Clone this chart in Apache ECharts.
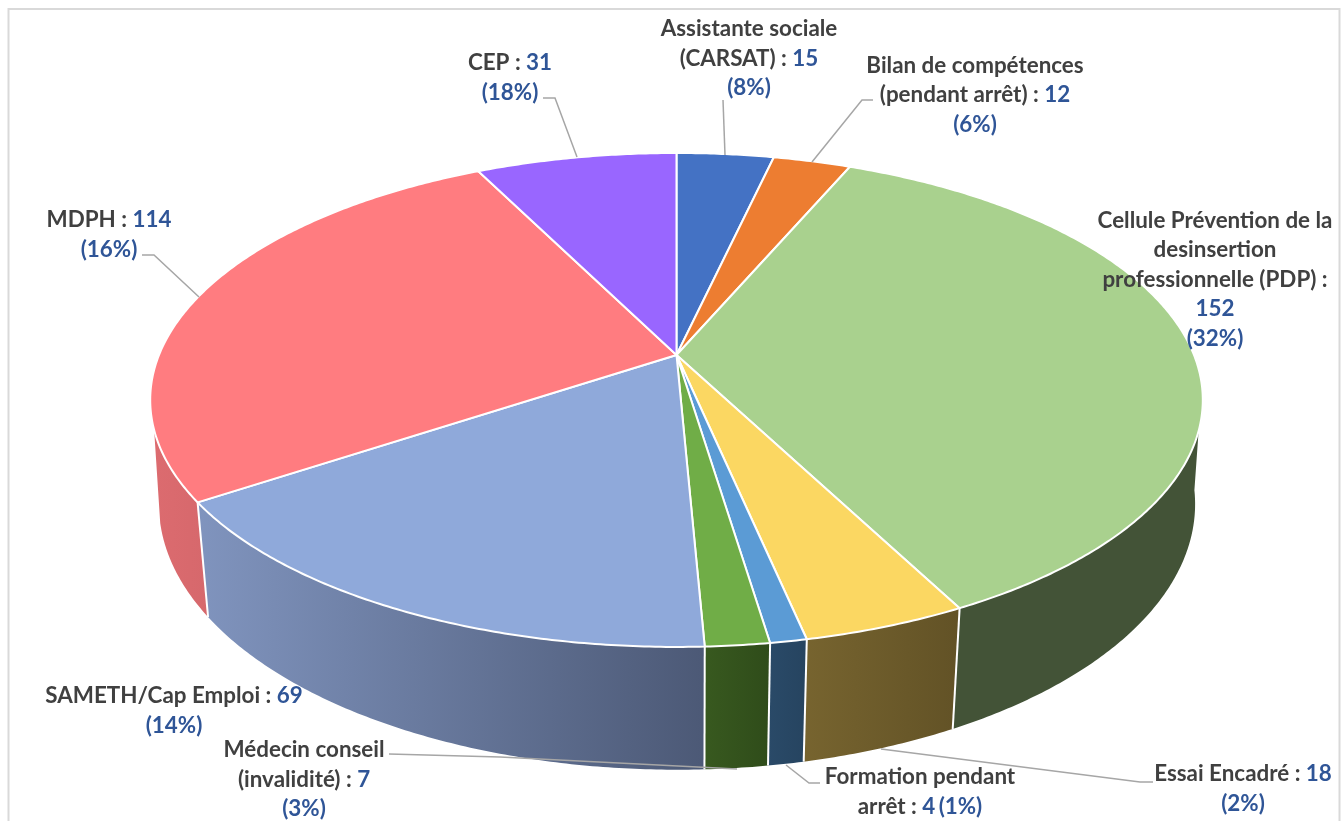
<!DOCTYPE html>
<html>
<head>
<meta charset="utf-8">
<style>html,body{margin:0;padding:0;background:#fff}#c{width:1344px;height:821px}</style>
<script src="https://cdn.jsdelivr.net/npm/echarts@6/dist/echarts.min.js"></script>
</head>
<body>
<div id="c"></div>
<script>
// ---- data ----
const categories = ['Assistante sociale\n(CARSAT)', 'Bilan de compétences\n(pendant arrêt)', 'Cellule Prévention de la\ndesinsertion\nprofessionnelle (PDP)', 'Essai Encadré', 'Formation pendant\narrêt', 'Médecin conseil\n(invalidité)', 'SAMETH/Cap Emploi', 'MDPH', 'CEP'];
const values = [15, 12, 152, 18, 4, 7, 69, 114, 31];
const percents = ['8%', '6%', '32%', '2%', '1%', '3%', '14%', '16%', '18%'];

// ---- styles ----
const topColors = ['#4472C4', '#ED7D31', '#A9D18E', '#FBD762', '#5B9BD5', '#70AD47', '#8FA9DA', '#FF7C80', '#9966FF'];
const sideFrom = ['#2F5597', '#B45F26', '#435337', '#77642F', '#2A4A68', '#38591F', '#8094BE', '#DC6B6F', '#6A46B0'];
const sideTo = ['#2F5597', '#B45F26', '#435337', '#625226', '#264460', '#2F4C1A', '#4C5976', '#D6686C', '#6A46B0'];
const valueBreak = [' ', ' ', '\n', ' ', ' ', ' ', ' ', ' ', ' '];
const percentBreak = ['\n', '\n', '\n', '\n', ' ', '\n', '\n', '\n', '\n'];

// ---- layout: perspective planes of the pie's top and bottom faces ----
const topPlane = {cx: 676.5, cy: 355, a: 517.5, b: 238.8, k: 0.182};
const bottomPlane = {cx: 677, cy: 459, a: 510.6, b: 258, k: 0.1696};
// where the visible wall meets its outline, as pie angles on each face
const wallTop = [107.5, 252.7];
const wallBottom = [96.8, 256.2];
const labelAnchors = [[749, 58.5], [975, 95], [1215, 279.5], [1243, 788.5], [920, 792], [304, 779.5], [174, 710.5], [109, 234.5], [510, 77.5]];
const leaderLines = [
  [[723, 100], [725, 155]],
  [[873, 100], [862, 100], [812, 162]],
  null,
  [[1153, 782], [1140, 782], [881, 749]],
  [[820, 783], [809, 783], [786, 765]],
  [[389, 754], [500, 757], [737, 769]],
  null,
  [[142, 255], [154, 255], [199, 297]],
  [[543, 98], [555, 98], [577, 157]]
];

const total = values.reduce((s, v) => s + v, 0);
function startAngle(i) {
  let s = 0;
  for (let j = 0; j < i; j++) s += values[j];
  return s / total * 360;
}
function project(deg, p) {
  const r = deg * Math.PI / 180, u = Math.sin(r), v = -Math.cos(r), w = 1 - p.k * v;
  return [p.cx + p.a * u / w, p.cy + p.b * v / w];
}
function arc(from, to, p) {
  const pts = [], n = Math.max(2, Math.ceil((to - from) * 2));
  for (let i = 0; i <= n; i++) pts.push(project(from + (to - from) * i / n, p));
  return pts;
}
const rows = values.map((v, i) => [i, v]);

function renderSide(params, api) {
  const i = api.value(0);
  const a0 = startAngle(i), a1 = a0 + api.value(1) / total * 360;
  if (Math.min(a1, wallTop[1]) <= Math.max(a0, wallTop[0])) return {type: 'group', children: []};
  const pts = arc(Math.max(a0, wallTop[0]), Math.min(a1, wallTop[1]), topPlane)
    .concat(arc(Math.max(a0, wallBottom[0]), Math.min(a1, wallBottom[1]), bottomPlane).reverse());
  const children = [{
    type: 'polygon', shape: {points: pts},
    style: {fill: {type: 'linear', x: 0, y: 0, x2: 1, y2: 0, colorStops: [{offset: 0, color: sideFrom[i]}, {offset: 1, color: sideTo[i]}]}}
  }];
  if (a0 >= wallTop[0]) children.push({
    type: 'line',
    shape: (() => { const s = project(a0, topPlane), e = project(a0, bottomPlane); return {x1: s[0], y1: s[1], x2: e[0], y2: e[1]}; })(),
    style: {stroke: '#fff', lineWidth: 2}
  });
  return {type: 'group', children};
}
function renderTop(params, api) {
  const i = api.value(0);
  const a0 = startAngle(i), a1 = a0 + api.value(1) / total * 360;
  return {
    type: 'polygon',
    shape: {points: [[topPlane.cx, topPlane.cy]].concat(arc(a0, a1, topPlane))},
    style: {fill: topColors[i], stroke: '#fff', lineWidth: 2, lineJoin: 'round'}
  };
}
function renderLabel(params, api) {
  const i = api.value(0), pos = labelAnchors[i], children = [];
  if (leaderLines[i]) children.push({
    type: 'polyline', shape: {points: leaderLines[i]},
    style: {stroke: '#A6A6A6', lineWidth: 1.5, fill: 'none'}
  });
  const head = valueBreak[i] === '\n' ? ' :' : ' : ';
  const tail = valueBreak[i] === '\n' ? '\n' : '';
  const text = '{n|' + categories[i] + head + '}' + tail + '{v|' + api.value(1) + '}' +
    percentBreak[i] + '{v|(' + percents[i] + ')}';
  children.push({
    type: 'text', x: pos[0], y: pos[1],
    style: {
      text, align: 'center', verticalAlign: 'middle', textAlign: 'center',
      rich: {
        n: {fontFamily: 'Lato', fontWeight: 700, fontSize: 22.4, lineHeight: 29.6, fill: '#404040', color: '#404040', align: 'center'},
        v: {fontFamily: 'Lato', fontWeight: 700, fontSize: 22.4, lineHeight: 29.6, fill: '#2F5597', color: '#2F5597', align: 'center'}
      }
    }
  });
  return {type: 'group', children};
}

const chart = echarts.init(document.getElementById('c'), null, {renderer: 'canvas'});
chart.setOption({
  animation: false,
  backgroundColor: '#fff',
  graphic: [{
    type: 'rect', z: 0, silent: true,
    shape: {x: 8.5, y: 9, width: 1331, height: 840},
    style: {fill: '#fff', stroke: '#D9D9D9', lineWidth: 2}
  }],
  series: [
    {type: 'custom', coordinateSystem: 'none', z: 2, silent: true, data: rows, renderItem: renderSide},
    {type: 'custom', coordinateSystem: 'none', z: 3, silent: true, data: rows, renderItem: renderTop},
    {type: 'custom', coordinateSystem: 'none', z: 4, silent: true, data: rows, renderItem: renderLabel}
  ]
});
</script>
</body>
</html>
